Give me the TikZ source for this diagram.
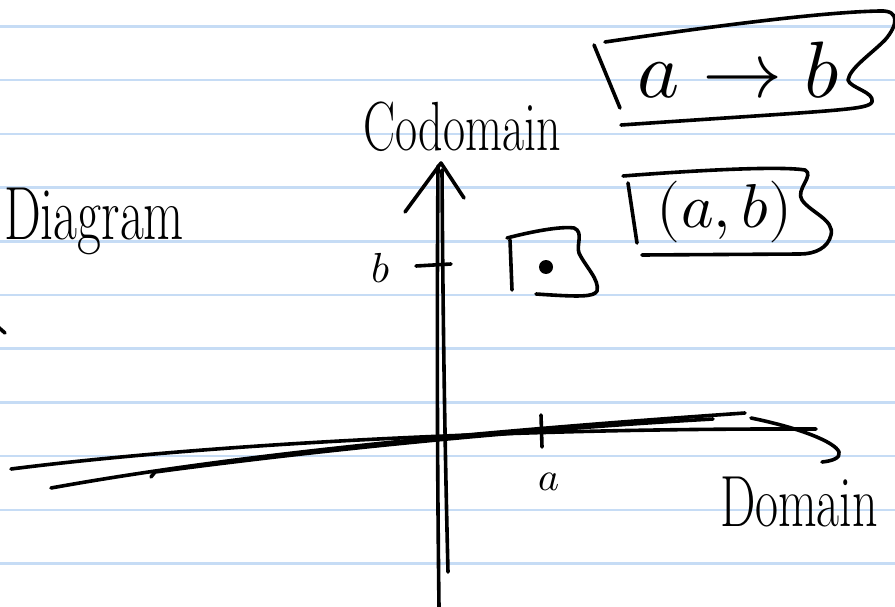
\documentclass[tikz,border=0pt]{standalone}
\usepackage{fontspec}
\usepackage{unicode-math}
\usepackage{tikz}
\definecolor{inkx}{HTML}{000000}
\definecolor{rulex}{HTML}{C6DCF5}
\tikzset{
  hand/.style={line width=3.6pt,line cap=round,line join=round,inkx},
  ruleline/.style={line width=2.6pt,rulex},
  lbl/.style={inner sep=0pt,inkx},
  tall/.style={yscale=1.45,transform shape}
}

\begin{document}
\begin{tikzpicture}[x=1pt,y=-1pt]
\fill[white] (0,0) rectangle (895,607);
\clip (0,0) rectangle (895,607);
\foreach \y in {26.5,80.2,...,570} \draw[ruleline] (0,\y) -- (895,\y);
% axes
\draw[hand] (438,166) .. controls (437,300) and (437,450) .. (439,607);
\draw[hand] (442,170) .. controls (443,330) and (445,450) .. (448,572);
\draw[hand] (405,212) -- (441,163) -- (464,198);
\draw[hand] (11,469) .. controls (200,445) and (500,428) .. (816,429);
\draw[hand] (51,488) .. controls (250,452) and (500,430) .. (745,413);
\draw[hand] (151,477) -- (155,472) .. controls (350,446) and (550,428) .. (713,419);
\draw[hand] (751,418) .. controls (800,428) and (835,442) .. (839,452)
  .. controls (841,458) and (832,461) .. (822,462);
\draw[hand] (541,415) -- (542,447);
\draw[hand] (416,266) -- (451,264);
\draw[hand] (-3,326) -- (5,333);
% point
\fill[inkx] (546,267) circle (7);
\draw[hand] (510,240) -- (512,290);
\draw[hand] (507,238) .. controls (530,232) and (560,226) .. (574,228)
  .. controls (584,232) and (576,245) .. (579,253)
  .. controls (585,266) and (600,280) .. (597,291)
  .. controls (594,297) and (580,297) .. (536,294);
% boxes
\draw[hand] (594,45) -- (620,108);
\draw[hand] (605,42) .. controls (700,28) and (820,12) .. (880,11)
  .. controls (900,10) and (898,25) .. (885,40)
  .. controls (870,55) and (850,68) .. (848,80)
  .. controls (850,88) and (875,92) .. (872,102)
  .. controls (868,110) and (840,110) .. (621,125);
\draw[hand] (628,183) -- (637,243);
\draw[hand] (623,176) .. controls (700,170) and (780,166) .. (805,170)
  .. controls (815,175) and (795,190) .. (802,200)
  .. controls (810,212) and (835,220) .. (831,235)
  .. controls (828,248) and (815,254) .. (800,254) -- (642,255);
% labels
\node[lbl,tall,font=\fontsize{48}{50}\selectfont] (codomain) at (462,127) {Codomain};
\node[lbl,tall,font=\fontsize{50}{52}\selectfont] (domain) at (799,502) {Domain};
\node[lbl,tall,font=\fontsize{52}{54}\selectfont,anchor=base west] (diagram) at (4,240) {Diagram};
\node[lbl,font=\fontsize{80}{82}\selectfont] (map) at (739,70) {$a\rightarrow b$};
\node[lbl,font=\fontsize{62}{64}\selectfont] (pair) at (725,212) {$(a,b)$};
\node[lbl,font=\fontsize{40}{42}\selectfont] (alab) at (549,482) {$a$};
\node[lbl,font=\fontsize{42}{44}\selectfont] (blab) at (381,268) {$b$};
\end{tikzpicture}
\end{document}
